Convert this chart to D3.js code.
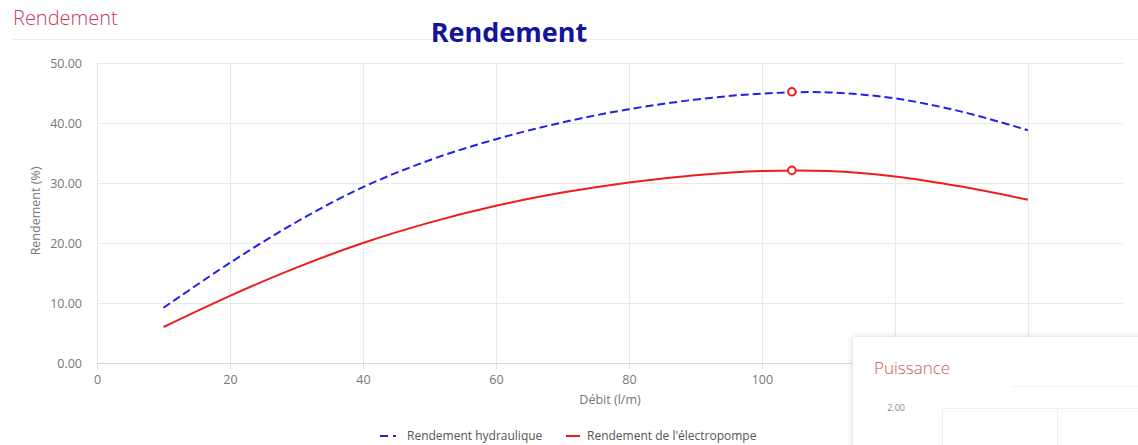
<!DOCTYPE html>
<html>
<head>
<meta charset="utf-8">
<script src="https://cdn.jsdelivr.net/npm/d3@7/dist/d3.min.js"></script>
<style>
  html, body { margin: 0; padding: 0; background: #fff; }
  svg { display: block; font-family: "Open Sans", "Noto Sans", sans-serif; }
</style>
</head>
<body>
<svg id="chart" width="1138" height="445"></svg>
<script>
// Flow rate (l/m) at which each efficiency was measured
const debit = [10, 20, 30, 40, 50, 60, 70, 80, 90, 100, 110, 120, 130, 140];
// Hydraulic efficiency (%)
const rendementHydraulique = [9.2, 16.7, 23.5, 29.3, 33.8, 37.3, 40.1, 42.3, 43.9, 44.9, 45.1, 44.1, 41.9, 38.8];
// Pump-set (electropump) efficiency (%)
const rendementElectropompe = [6.0, 11.2, 15.9, 20.0, 23.4, 26.2, 28.4, 30.1, 31.3, 32.0, 32.0, 31.1, 29.4, 27.2];
// Best efficiency point
const optimumDebit = [104.5];
const optimumHydraulique = [45.2];
const optimumElectropompe = [32.1];
// Axis ticks (labels past 100 sit under the Puissance panel)
const xTicks = [0, 20, 40, 60, 80, 100, 120, 140];
const xTickLabels = ["0", "20", "40", "60", "80", "100", "", ""];
const yTicks = [0, 10, 20, 30, 40, 50];

const svg = d3.select("#chart");

const x = d3.scaleLinear().domain([0, 154]).range([97, 1121]);
const y = d3.scaleLinear().domain([0, 50]).range([363, 63]);

// Panel header
svg.append("text")
  .attr("x", 13).attr("y", 25)
  .attr("font-size", 20).attr("font-weight", 300)
  .attr("fill", "#c23b55")
  .text("Rendement");
svg.append("line")
  .attr("x1", 13).attr("x2", 1138).attr("y1", 39.5).attr("y2", 39.5)
  .attr("stroke", "#ececec");

// Chart title
svg.append("text")
  .attr("x", 509).attr("y", 42)
  .attr("text-anchor", "middle")
  .attr("font-size", 27).attr("font-weight", 700)
  .attr("fill", "#14149a")
  .text("Rendement");

// Grid
const grid = svg.append("g");
grid.selectAll(".hg").data(yTicks.filter(d => d > 0)).join("line")
  .attr("x1", 97).attr("x2", 1123)
  .attr("y1", d => Math.round(y(d)) + 0.5).attr("y2", d => Math.round(y(d)) + 0.5)
  .attr("stroke", "#e9e9e9");
grid.selectAll(".vg").data(xTicks).join("line")
  .attr("x1", d => Math.round(x(d)) + 0.5).attr("x2", d => Math.round(x(d)) + 0.5)
  .attr("y1", 63).attr("y2", 363)
  .attr("stroke", "#e9e9e9");

// X axis
const xAxis = svg.append("g")
  .attr("transform", "translate(0,363.5)")
  .call(d3.axisBottom(x).tickValues(xTicks).tickSize(6).tickPadding(6)
    .tickFormat((d, i) => xTickLabels[i]));
xAxis.select(".domain").attr("stroke", "#d8d8d8").attr("d", "M97,0H1123");
xAxis.selectAll(".tick line").attr("stroke", "#e0e0e0");
xAxis.selectAll(".tick text").attr("fill", "#777").attr("font-size", 12.5)
  .attr("font-family", "Open Sans, sans-serif");

// Y axis labels
const yAxis = svg.append("g")
  .attr("transform", "translate(97,0)")
  .call(d3.axisLeft(y).tickValues(yTicks).tickSize(0).tickPadding(15).tickFormat(d3.format(".2f")));
yAxis.select(".domain").remove();
yAxis.selectAll(".tick text").attr("fill", "#777").attr("font-size", 12.5)
  .attr("font-family", "Open Sans, sans-serif");

// Axis titles
svg.append("text")
  .attr("transform", "translate(40,211) rotate(-90)")
  .attr("text-anchor", "middle")
  .attr("font-size", 12.5).attr("fill", "#777")
  .text("Rendement (%)");
svg.append("text")
  .attr("x", 610).attr("y", 404)
  .attr("text-anchor", "middle")
  .attr("font-size", 12.5).attr("fill", "#777")
  .text("Débit (l/m)");

// Curves
const line = d3.line().x(d => x(d[0])).y(d => y(d[1])).curve(d3.curveCatmullRom.alpha(0.5));
const hydro = debit.map((d, i) => [d, rendementHydraulique[i]]);
const elec = debit.map((d, i) => [d, rendementElectropompe[i]]);

svg.append("path").datum(elec)
  .attr("d", line).attr("fill", "none")
  .attr("stroke", "#ee1d1d").attr("stroke-width", 2);
svg.append("path").datum(hydro)
  .attr("d", line).attr("fill", "none")
  .attr("stroke", "#2020e8").attr("stroke-width", 2)
  .attr("stroke-dasharray", "8,4");

// Best-efficiency markers
const opt = optimumDebit.map((d, i) => [d, optimumHydraulique[i]])
  .concat(optimumDebit.map((d, i) => [d, optimumElectropompe[i]]));
svg.selectAll(".opt").data(opt).join("circle")
  .attr("cx", d => x(d[0])).attr("cy", d => y(d[1])).attr("r", 3.8)
  .attr("fill", "#fff").attr("stroke", "#ee1d1d").attr("stroke-width", 2);

// Legend
const legend = svg.append("g").attr("font-size", 12).attr("fill", "#555");
legend.append("line").attr("x1", 380).attr("x2", 398).attr("y1", 436).attr("y2", 436)
  .attr("stroke", "#2020e8").attr("stroke-width", 2).attr("stroke-dasharray", "8,5,3,10");
legend.append("text").attr("x", 407).attr("y", 440).attr("fill", "#555").text("Rendement hydraulique");
legend.append("line").attr("x1", 566).attr("x2", 580).attr("y1", 436).attr("y2", 436)
  .attr("stroke", "#ee1d1d").attr("stroke-width", 2);
legend.append("text").attr("x", 587).attr("y", 440).attr("fill", "#555").text("Rendement de l'électropompe");

// Neighbouring "Puissance" panel overlapping the corner
const defs = svg.append("defs");
const sh = defs.append("filter").attr("id", "shadow").attr("x", "-10%").attr("y", "-20%").attr("width", "130%").attr("height", "150%");
sh.append("feDropShadow").attr("dx", 0).attr("dy", 0).attr("stdDeviation", 3).attr("flood-color", "#000").attr("flood-opacity", 0.18);
const panel = svg.append("g");
panel.append("rect").attr("x", 853).attr("y", 337).attr("width", 300).attr("height", 120)
  .attr("fill", "#fff").attr("filter", "url(#shadow)");
panel.append("text").attr("x", 874).attr("y", 374)
  .attr("font-size", 17).attr("font-weight", 300).attr("fill", "#c85a5a")
  .text("Puissance");
panel.append("line").attr("x1", 1013).attr("x2", 1138).attr("y1", 386.5).attr("y2", 386.5)
  .attr("stroke", "#f0f0f0");
panel.append("text").attr("x", 905).attr("y", 411).attr("text-anchor", "end")
  .attr("font-size", 9).attr("fill", "#888").text("2.00");
panel.append("line").attr("x1", 942).attr("x2", 1138).attr("y1", 408.5).attr("y2", 408.5)
  .attr("stroke", "#efefef");
panel.selectAll(".pv").data([942.5, 1057.5]).join("line")
  .attr("x1", d => d).attr("x2", d => d).attr("y1", 408).attr("y2", 445)
  .attr("stroke", "#efefef");
</script>
</body>
</html>
